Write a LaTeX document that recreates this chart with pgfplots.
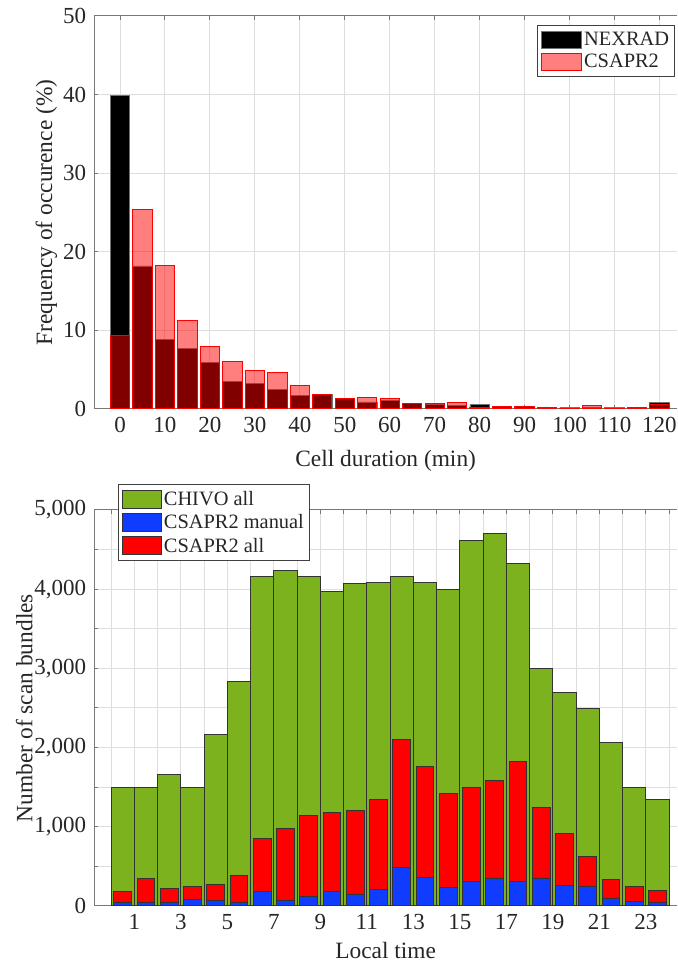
\documentclass[border=0pt]{standalone}
\usepackage{fontspec}
\setmainfont{Liberation Serif}
\usepackage{pgfplots}
\usepackage{pgfplotstable}
\pgfplotsset{compat=1.18}
\definecolor{chivo}{RGB}{124,178,29}
\definecolor{cblue}{RGB}{15,60,255}
\definecolor{axgray}{RGB}{120,120,120}
\definecolor{gridgray}{RGB}{222,222,222}

\pgfplotstableread{
x nex csa
0 39.9 9.3
5 18.2 25.4
10 8.9 18.2
15 7.7 11.2
20 5.9 8.0
25 3.5 6.1
30 3.3 4.95
35 2.5 4.6
40 1.7 3.0
45 1.8 1.8
50 1.3 1.3
55 0.9 1.5
60 1.05 1.35
65 0.7 0.75
70 0.6 0.65
75 0.4 0.85
80 0.55 0.25
85 0.35 0.35
90 0.35 0.35
95 0.1 0.2
100 0.2 0.1
105 0.25 0.4
110 0.2 0.1
115 0.05 0.2
120 0.85 0.6
}\durtab

\pgfplotstableread{
x chivo all man
0.5 1500 180 50
1.5 1500 345 40
2.5 1660 220 50
3.5 1500 250 80
4.5 2170 270 70
5.5 2830 390 50
6.5 4160 850 180
7.5 4230 980 70
8.5 4160 1140 120
9.5 3970 1175 180
10.5 4070 1210 150
11.5 4080 1340 210
12.5 4165 2100 490
13.5 4080 1760 360
14.5 4000 1420 230
15.5 4620 1500 310
16.5 4700 1580 345
17.5 4330 1820 310
18.5 3000 1240 345
19.5 2700 910 260
20.5 2490 620 250
21.5 2070 340 100
22.5 1500 250 60
23.5 1340 200 50
}\hourtab

\begin{document}
\fontsize{11.7}{14}\selectfont
\begin{tikzpicture}
\useasboundingbox (0,0) rectangle (339pt,481pt);
\pgfplotsset{
  mystyle/.style={
    scale only axis, width=291.35pt,
    axis y line*=left,
    tick align=inside,
    axis line style={axgray, line width=0.5pt},
    tick style={axgray, line width=0.5pt},
    major tick length=2pt, minor tick length=2pt,
    grid style={gridgray, line width=0.5pt},
    minor grid style={gridgray, line width=0.5pt},
    tick label style={font=\fontsize{11.5}{14}\selectfont, text=black!85},
    label style={font=\fontsize{11.7}{14}\selectfont, text=black!85},
    /pgf/number format/assume math mode=true,
    legend cell align=left,
    legend style={draw=black!75, line width=0.5pt, fill=white, text=black!85,
      font=\fontsize{10.2}{12}\selectfont, inner sep=1.5pt, row sep=0pt,
      /tikz/every odd column/.append style={column sep=0pt}},
  }
}
% ---------- top panel ----------
\begin{axis}[mystyle, at={(47.15pt,276.5pt)}, anchor=south west, height=196.5pt,
  xmin=-5.72, xmax=123.9, ymin=0, ymax=50,
  xtick={0,10,...,120}, ytick={0,10,...,50},
  xmajorgrids, ymajorgrids,
  xlabel={Cell duration (min)}, ylabel={Frequency of occurence (\%)},
  xlabel style={at={(axis description cs:0.5,0)}, anchor=center, yshift=-26pt},
  ylabel style={at={(axis description cs:0,0.5)}, anchor=center, yshift=24pt},
  legend style={at={(axis description cs:1,1)}, anchor=north east, xshift=-1pt, yshift=-4.5pt,
    nodes={inner sep=1.2pt, text height=7.3pt, text depth=1.5pt}},
  legend image code/.code={\draw[#1] (0pt,-4.25pt) rectangle (20pt,4.25pt);},
]
\addplot[ybar, bar width=4.3, bar shift=0, fill=black, draw=black!55, line width=0.4pt]
  table[x=x,y=nex]{\durtab};
\addlegendentry{NEXRAD\hspace{1.5pt}}
\addplot[ybar, bar width=4.3, bar shift=0, fill=red, fill opacity=0.5, draw=red, line width=0.5pt]
  table[x=x,y=csa]{\durtab};
\addlegendentry{CSAPR2}
\end{axis}
% ---------- bottom panel ----------
\begin{axis}[mystyle, at={(47.15pt,28pt)}, anchor=south west, height=198pt,
  xmin=-0.72, xmax=24.34, ymin=0, ymax=5000,
  xtick={0,...,24},
  xticklabels={,1,,3,,5,,7,,9,,11,,13,,15,,17,,19,,21,,23,},
  ytick={0,1000,...,5000}, minor ytick={500,1500,...,4500},
  scaled y ticks=false,
  /pgf/number format/1000 sep={,},
  xmajorgrids, ymajorgrids, yminorgrids,
  xlabel={Local time}, ylabel={Number of scan bundles},
  xlabel style={at={(axis description cs:0.5,0)}, anchor=center, yshift=-22pt},
  ylabel style={at={(axis description cs:0,0.5)}, anchor=center, yshift=35pt},
  legend style={at={(axis description cs:0,1)}, anchor=north west, xshift=11.85pt, yshift=13pt,
    nodes={inner sep=1.2pt, text height=7.8pt, text depth=1.5pt}},
  legend image code/.code={\draw[#1] (0pt,-4.5pt) rectangle (19.5pt,4.5pt);},
  legend entries={CHIVO all, CSAPR2 manual\hspace{1.5pt}, CSAPR2 all},
]
\addlegendimage{fill=chivo, draw=black!80, line width=0.5pt}
\addlegendimage{fill=cblue, draw=black!80, line width=0.5pt}
\addlegendimage{fill=red, draw=black!80, line width=0.5pt}
\addplot[forget plot, ybar, bar width=1, bar shift=0, fill=chivo, draw=black!80, line width=0.5pt]
  table[x=x,y=chivo]{\hourtab};
\addplot[forget plot, ybar, bar width=0.76, bar shift=0, fill=red, draw=black!80, line width=0.5pt]
  table[x=x,y=all]{\hourtab};
\addplot[forget plot, ybar, bar width=0.76, bar shift=0, fill=cblue, draw=black!80, line width=0.5pt]
  table[x=x,y=man]{\hourtab};
\end{axis}
\end{tikzpicture}
\end{document}
